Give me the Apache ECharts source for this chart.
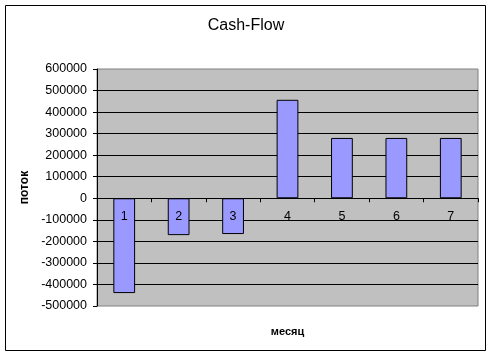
<!DOCTYPE html>
<html>
<head>
<meta charset="utf-8">
<script src="https://cdn.jsdelivr.net/npm/echarts@6/dist/echarts.min.js"></script>
<style>
  html, body { margin: 0; padding: 0; background: #ffffff; }
  #chart { width: 493px; height: 357px; }
</style>
</head>
<body>
<div id="chart"></div>
<script>
// Monthly cash flow
const months = ['1', '2', '3', '4', '5', '6', '7'];
const flows = [-440000, -171000, -166000, 457000, 280000, 280000, 280000];
const yMin = -500000;
const yMax = 600000;
const yStep = 100000;

const gridTop = 69;
const gridBottom = 51;
const chartHeight = 357;
const plotHeight = chartHeight - gridTop - gridBottom;
// distance from the bottom edge of the plot up to the zero line
const zeroLift = plotHeight * (0 - yMin) / (yMax - yMin);

const chart = echarts.init(document.getElementById('chart'), null, { renderer: 'canvas' });
const font = '"Liberation Sans", Arial, sans-serif';

chart.setOption({
  animation: false,
  backgroundColor: '#ffffff',
  grid: {
    left: 97, top: gridTop, right: 15, bottom: gridBottom,
    containLabel: false,
    outerBoundsMode: 'none',
    show: true,
    backgroundColor: '#C0C0C0',
    borderColor: '#808080',
    borderWidth: 1
  },
  xAxis: {
    type: 'category',
    data: months,
    position: 'bottom',
    offset: -zeroLift,
    z: 10,
    axisLine: { onZero: false, lineStyle: { color: '#000000', width: 1 } },
    axisTick: { show: true, length: 4, lineStyle: { color: '#000000' } },
    axisLabel: { color: '#000000', fontFamily: font, fontSize: 12.5, margin: 12 },
    splitLine: { show: false }
  },
  yAxis: {
    type: 'value',
    min: yMin,
    max: yMax,
    interval: yStep,
    name: 'поток',
    nameLocation: 'middle',
    nameGap: 60,
    nameRotate: 90,
    nameTextStyle: { color: '#000000', fontFamily: font, fontSize: 12, fontWeight: 'bold' },
    axisLine: { show: true, lineStyle: { color: '#000000', width: 1 } },
    axisTick: { show: true, length: 4, lineStyle: { color: '#000000' } },
    axisLabel: {
      color: '#000000', fontFamily: font, fontSize: 12.5, margin: 10,
      formatter: v => String(v)
    },
    splitLine: {
      show: true,
      showMinLine: false,
      showMaxLine: false,
      lineStyle: { color: '#000000', width: 1 }
    }
  },
  series: [{
    type: 'bar',
    data: flows,
    barWidth: '40%',
    itemStyle: { color: '#9999FF', borderColor: '#000000', borderWidth: 1 }
  }],
  graphic: [
    {
      type: 'rect',
      shape: { x: 5.5, y: 5.5, width: 480, height: 345 },
      style: { fill: null, stroke: '#000000', lineWidth: 1 },
      z: 100
    },
    {
      type: 'text',
      x: 246, y: 26,
      style: {
        text: 'Cash-Flow',
        fill: '#000000',
        font: '16px ' + font,
        textAlign: 'center',
        textVerticalAlign: 'middle'
      }
    },
    {
      type: 'text',
      x: 287.5, y: 332,
      style: {
        text: 'месяц',
        fill: '#000000',
        font: 'bold 11px ' + font,
        textAlign: 'center',
        textVerticalAlign: 'middle'
      }
    }
  ]
});
</script>
</body>
</html>
